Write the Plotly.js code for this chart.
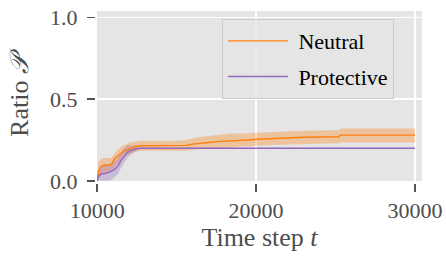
<!DOCTYPE html>
<html>
<head>
<meta charset="utf-8">
<script src="https://cdn.plot.ly/plotly-3.0.1.min.js"></script>
<style>html,body{margin:0;padding:0;background:#fff;}#chart{width:446px;height:256px;}</style>
</head>
<body>
<div id="chart"></div>
<script>
// Time steps
const steps = [10000, 10100, 10200, 10400, 10700, 10900, 11100, 11300, 11500, 11700, 11900, 12100, 12400, 12700, 13000, 14000, 15000, 15600, 16000, 16500, 17000, 17500, 18000, 18500, 19000, 19500, 20000, 21000, 22000, 23000, 24000, 25200, 25300, 26000, 27000, 28000, 29000, 30000];

// Neutral series
const neutralMean = [0.02, 0.06, 0.08, 0.095, 0.095, 0.10, 0.135, 0.15, 0.17, 0.185, 0.19, 0.20, 0.21, 0.215, 0.215, 0.215, 0.215, 0.217, 0.225, 0.232, 0.235, 0.24, 0.242, 0.248, 0.25, 0.25, 0.255, 0.26, 0.265, 0.267, 0.268, 0.27, 0.28, 0.28, 0.28, 0.28, 0.28, 0.28];
const neutralLow  = [0.0, 0.01, 0.03, 0.05, 0.05, 0.06, 0.09, 0.11, 0.13, 0.15, 0.16, 0.17, 0.18, 0.185, 0.185, 0.185, 0.185, 0.185, 0.19, 0.195, 0.195, 0.2, 0.2, 0.205, 0.21, 0.21, 0.215, 0.22, 0.225, 0.227, 0.228, 0.23, 0.235, 0.235, 0.235, 0.235, 0.235, 0.235];
const neutralHigh = [0.05, 0.12, 0.13, 0.14, 0.14, 0.14, 0.17, 0.19, 0.21, 0.22, 0.225, 0.235, 0.24, 0.245, 0.245, 0.245, 0.245, 0.25, 0.26, 0.27, 0.275, 0.28, 0.285, 0.29, 0.29, 0.29, 0.295, 0.3, 0.305, 0.307, 0.308, 0.31, 0.32, 0.32, 0.32, 0.32, 0.32, 0.32];

// Protective series
const protectiveMean = [0.0, 0.03, 0.04, 0.045, 0.05, 0.06, 0.07, 0.09, 0.125, 0.15, 0.175, 0.185, 0.195, 0.2, 0.2, 0.2, 0.2, 0.2, 0.2, 0.2, 0.2, 0.2, 0.2, 0.2, 0.2, 0.2, 0.2, 0.2, 0.2, 0.2, 0.2, 0.2, 0.2, 0.2, 0.2, 0.2, 0.2, 0.2];
const protectiveLow  = [0.0, 0.0, 0.0, 0.0, 0.0, 0.005, 0.02, 0.04, 0.08, 0.11, 0.14, 0.16, 0.18, 0.195, 0.198, 0.198, 0.198, 0.198, 0.198, 0.198, 0.198, 0.198, 0.198, 0.198, 0.198, 0.198, 0.198, 0.198, 0.198, 0.198, 0.198, 0.198, 0.198, 0.198, 0.198, 0.198, 0.198, 0.198];
const protectiveHigh = [0.02, 0.07, 0.09, 0.1, 0.1, 0.11, 0.12, 0.14, 0.17, 0.2, 0.22, 0.215, 0.21, 0.205, 0.202, 0.202, 0.202, 0.202, 0.202, 0.202, 0.202, 0.202, 0.202, 0.202, 0.202, 0.202, 0.202, 0.202, 0.202, 0.202, 0.202, 0.202, 0.202, 0.202, 0.202, 0.202, 0.202, 0.202];

const seriesNames = ["Neutral", "Protective"];
const xTicks = [10000, 20000, 30000];
const yTicks = [0.0, 0.5, 1.0];
const yTickText = ["0.0", "0.5", "1.0"];

function band(lo, hi, color, group) {
  return {
    x: steps.concat(steps.slice().reverse()),
    y: hi.concat(lo.slice().reverse()),
    type: "scatter", mode: "lines", fill: "toself", legendgroup: group,
    fillcolor: color, line: {width: 0}, hoverinfo: "skip", showlegend: false
  };
}

const traces = [
  band(neutralLow, neutralHigh, "rgba(255,127,14,0.33)", "a"),
  band(protectiveLow, protectiveHigh, "rgba(148,103,189,0.33)", "b"),
  {x: steps, y: neutralMean, type: "scatter", mode: "lines", name: "\u00a0" + seriesNames[0], legendgroup: "a",
   line: {color: "#ff7f0e", width: 1.4}},
  {x: steps, y: protectiveMean, type: "scatter", mode: "lines", name: "\u00a0" + seriesNames[1], legendgroup: "b",
   line: {color: "#9467bd", width: 1.4}}
];

const serif = "'Liberation Serif', 'Times New Roman', 'DejaVu Serif', serif";
const layout = {
  width: 446, height: 256,
  margin: {l: 95, r: 24, t: 11, b: 73, pad: 0},
  paper_bgcolor: "#ffffff", plot_bgcolor: "#e5e5e5",
  font: {family: serif, size: 22, color: "#4d4d4d"},
  showlegend: true,
  legend: {
    x: 0.388, y: 0.953, xanchor: "left", yanchor: "top",
    bgcolor: "rgba(229,229,229,0.85)", bordercolor: "#cccccc", borderwidth: 1,
    itemwidth: 60, tracegroupgap: 4,
    font: {family: serif, size: 22, color: "#000000"}
  },
  xaxis: {
    domain: [2/327, 1], anchor: "free", position: 0,
    range: [9990, 30440], tickvals: xTicks, ticktext: xTicks.map(String),
    ticks: "outside", ticklen: 8, tickwidth: 1.5, tickcolor: "#555555",
    showgrid: true, gridcolor: "#ffffff", gridwidth: 1.5, zeroline: false, showline: false,
    tickfont: {family: serif, size: 22, color: "#4d4d4d"},
    title: {text: "Time step <i>t</i>", font: {family: serif, size: 26, color: "#4d4d4d"}, standoff: 4}
  },
  yaxis: {
    domain: [2/172, 1], anchor: "free", position: 0,
    range: [-0.001, 1.04], tickvals: yTicks, ticktext: yTickText,
    ticks: "outside", ticklen: 8, tickwidth: 1.5, tickcolor: "#555555",
    ticklabelstandoff: 5,
    showgrid: true, gridcolor: "#ffffff", gridwidth: 1.5, zeroline: false, showline: false,
    tickfont: {family: serif, size: 22, color: "#4d4d4d"},
    title: {text: "Ratio <i>𝒫</i>", font: {family: serif, size: 26, color: "#4d4d4d"}, standoff: 12}
  }
};

Plotly.newPlot("chart", traces, layout, {displayModeBar: false, staticPlot: true});
</script>
</body>
</html>
